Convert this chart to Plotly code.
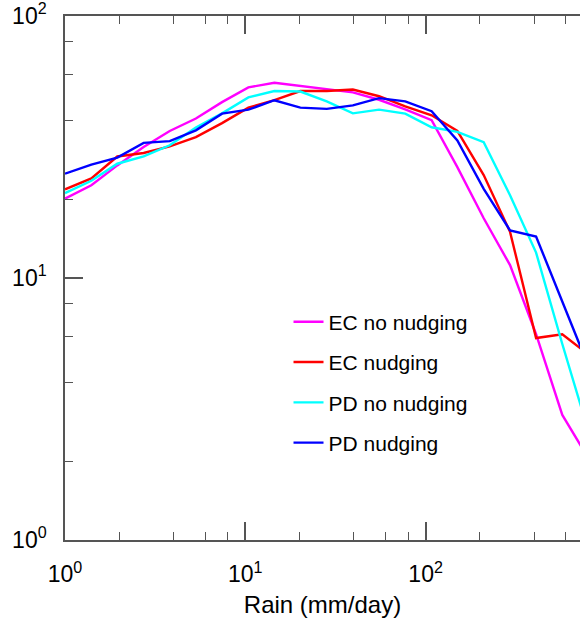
import plotly.graph_objects as go

# Rain-rate bins (mm/day)
rain = [1.0, 1.4, 1.95, 2.73, 3.81, 5.32, 7.43, 10.4, 14.5, 20.2, 28.3,
        39.5, 55.2, 77.1, 108, 150, 210, 294, 410, 573, 800]

ec_no_nudging = [20.1, 22.6, 26.9, 31.6, 36.4, 40.6, 46.9, 53.4, 55.6, 54.1, 52.3,
                 51.1, 47.9, 44.0, 40.0, 26.5, 16.9, 11.2, 6.1, 3.0, 2.05]
ec_nudging = [21.8, 24.0, 29.1, 30.0, 31.8, 34.5, 39.0, 44.7, 47.7, 51.7, 51.7,
              52.4, 49.4, 45.2, 41.8, 36.4, 24.7, 15.0, 5.9, 6.1, 5.1]
pd_no_nudging = [21.1, 23.5, 27.3, 29.1, 32.1, 37.5, 42.5, 48.9, 51.7, 51.5, 47.2,
                 42.5, 43.9, 42.4, 37.6, 36.1, 33.0, 20.7, 12.5, 5.6, 2.6]
pd_nudging = [25.0, 27.1, 28.8, 32.8, 33.3, 36.6, 42.4, 43.9, 47.7, 44.7, 44.2,
              45.6, 48.6, 47.2, 43.3, 33.5, 21.9, 15.2, 14.4, 8.15, 4.6]

series_names = ["EC no nudging", "EC nudging", "PD no nudging", "PD nudging"]
series_values = [ec_no_nudging, ec_nudging, pd_no_nudging, pd_nudging]
series_colors = ["#ff00ff", "#ff0000", "#00ffff", "#0000ff"]

major_vals = [1, 10, 100]
major_text = ["10<sup>0</sup>", "10<sup>1</sup>", "10<sup>2</sup>"]
x_minor = [2, 4, 6, 8, 20, 40, 60, 80, 200, 400, 600, 800]
y_minor = [2, 4, 6, 8, 20, 40, 60, 80]

FONT = "Liberation Sans, Arial, Helvetica, sans-serif"
AX = "#555555"

fig = go.Figure()
for i, (n, v, c) in enumerate(zip(series_names, series_values, series_colors)):
    fig.add_trace(go.Scatter(x=rain, y=v, mode="lines", name=n,
                             legendgroup=f"g{i}",
                             line=dict(color=c, width=2.4)))

fig.update_layout(
    width=580, height=620,
    margin=dict(l=65, r=0, t=16, b=80),
    paper_bgcolor="white", plot_bgcolor="white",
    font=dict(family=FONT, color="black"),
    showlegend=True,
    legend=dict(x=0.434, y=0.455, xanchor="left", yanchor="top",
                bgcolor="rgba(0,0,0,0)", font=dict(size=21, family=FONT, color="black"),
                traceorder="grouped", tracegroupgap=10, itemwidth=30),
    xaxis=dict(type="log", range=[0, 515 / 180.3], showgrid=False, zeroline=False,
               showline=True, linecolor=AX, linewidth=1.5, mirror="ticks",
               ticks="inside", ticklen=18, tickwidth=1.5, tickcolor=AX,
               tickmode="array", tickvals=major_vals, ticktext=major_text,
               tickfont=dict(size=23, family=FONT, color="black"),
               ticklabelstandoff=13, ticklabeloverflow="allow",
               minor=dict(tickmode="array", tickvals=x_minor, ticks="inside",
                          ticklen=8, tickwidth=1.2, tickcolor=AX, showgrid=False),
               title=dict(text="Rain (mm/day)", font=dict(size=24, family=FONT, color="black"),
                          standoff=10)),
    yaxis=dict(type="log", range=[0, 2], showgrid=False, zeroline=False,
               showline=True, linecolor=AX, linewidth=1.5, mirror=False,
               ticks="inside", ticklen=18, tickwidth=1.5, tickcolor=AX,
               tickmode="array", tickvals=major_vals, ticktext=major_text,
               tickfont=dict(size=23, family=FONT, color="black"),
               ticklabelstandoff=12, ticklabeloverflow="allow",
               minor=dict(tickmode="array", tickvals=y_minor, ticks="inside",
                          ticklen=8, tickwidth=1.2, tickcolor=AX, showgrid=False)),
)

fig.write_html("out.html")
